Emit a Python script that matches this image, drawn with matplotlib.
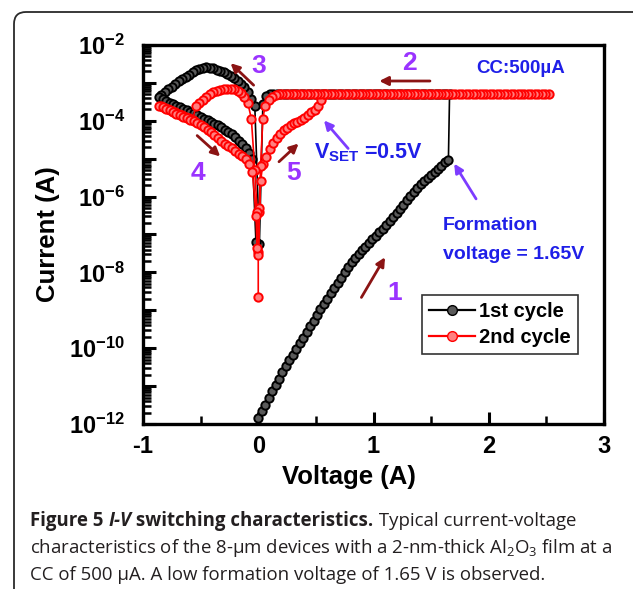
import numpy as np
import matplotlib
matplotlib.use('Agg')
import matplotlib.pyplot as plt
from matplotlib.patches import FancyBboxPatch
from matplotlib.transforms import IdentityTransform
from matplotlib.lines import Line2D
from matplotlib.ticker import LogLocator, FixedLocator, FuncFormatter, MultipleLocator, NullFormatter

plt.rcParams['font.family'] = ['Liberation Sans', 'DejaVu Sans']
plt.rcParams['mathtext.fontset'] = 'custom'
plt.rcParams['mathtext.bf'] = 'Liberation Sans:bold'
plt.rcParams['mathtext.rm'] = 'Open Sans'
plt.rcParams['mathtext.it'] = 'Open Sans:italic'

# ---- data: (voltage V, log10 current A) ----
cc_current = 5.0e-4   # compliance current, 500 uA

# 1st cycle
c1_forming = [(0.00, -11.84), (0.03, -11.66), (0.06, -11.49), (0.09, -11.31), (0.12, -11.14),
              (0.15, -10.97), (0.18, -10.80), (0.21, -10.63), (0.24, -10.47), (0.27, -10.32),
              (0.30, -10.17), (0.33, -10.02), (0.36, -9.87), (0.39, -9.72), (0.42, -9.57),
              (0.45, -9.42), (0.48, -9.27), (0.51, -9.12), (0.54, -8.97), (0.57, -8.83),
              (0.60, -8.69), (0.63, -8.55), (0.66, -8.41), (0.69, -8.28), (0.72, -8.14),
              (0.75, -8.00), (0.78, -7.87), (0.81, -7.73), (0.84, -7.62), (0.87, -7.52),
              (0.90, -7.42), (0.93, -7.32), (0.96, -7.22), (0.99, -7.12), (1.02, -7.03),
              (1.05, -6.94), (1.08, -6.85), (1.11, -6.76), (1.14, -6.65), (1.17, -6.54),
              (1.20, -6.43), (1.23, -6.32), (1.26, -6.21), (1.29, -6.10), (1.32, -5.99),
              (1.35, -5.88), (1.38, -5.76), (1.41, -5.66), (1.44, -5.58), (1.47, -5.50),
              (1.50, -5.42), (1.53, -5.34), (1.56, -5.26), (1.59, -5.18), (1.62, -5.10),
              (1.65, -5.03)]
c1_cc_v = [1.66, 1.63, 1.60, 1.57, 1.54, 1.51, 1.48, 1.45, 1.42, 1.39, 1.36, 1.33, 1.30, 1.27,
           1.24, 1.21, 1.18, 1.15, 1.12, 1.09, 1.06, 1.03, 1.00, 0.97, 0.94, 0.91, 0.88, 0.85,
           0.82, 0.79, 0.76, 0.73, 0.70, 0.67, 0.64, 0.61, 0.58, 0.55, 0.52, 0.49, 0.46, 0.43,
           0.40, 0.37, 0.34, 0.31, 0.28, 0.25, 0.22, 0.19, 0.16, 0.13, 0.10]
c1_dip = [(0.07, -3.35), (0.04, -3.55), (0.01, -7.25)]
c1_reset = [(-0.03, -3.60), (-0.06, -3.42), (-0.09, -3.25), (-0.12, -3.12), (-0.15, -3.02),
            (-0.18, -2.94), (-0.21, -2.87), (-0.24, -2.81), (-0.27, -2.76), (-0.30, -2.72),
            (-0.33, -2.68), (-0.36, -2.65), (-0.39, -2.62), (-0.42, -2.60), (-0.45, -2.59),
            (-0.48, -2.60), (-0.51, -2.63), (-0.54, -2.67), (-0.57, -2.72), (-0.60, -2.78),
            (-0.63, -2.84), (-0.66, -2.90), (-0.69, -2.96), (-0.72, -3.03), (-0.75, -3.10),
            (-0.78, -3.17), (-0.81, -3.24), (-0.84, -3.32), (-0.86, -3.36)]
c1_hrs = [(-0.83, -3.43), (-0.80, -3.49), (-0.77, -3.53), (-0.74, -3.56), (-0.71, -3.60),
          (-0.68, -3.64), (-0.65, -3.68), (-0.62, -3.72), (-0.59, -3.76), (-0.56, -3.80),
          (-0.53, -3.85), (-0.50, -3.89), (-0.47, -3.94), (-0.44, -3.99), (-0.41, -4.03),
          (-0.38, -4.08), (-0.35, -4.12), (-0.32, -4.17), (-0.29, -4.23), (-0.26, -4.29),
          (-0.23, -4.35), (-0.20, -4.43), (-0.17, -4.52), (-0.14, -4.62), (-0.11, -4.73),
          (-0.08, -4.86), (-0.05, -5.00), (-0.02, -7.20)]

# 2nd cycle
c2_start = [(0.00, -8.66), (0.00, -7.45), (0.01, -6.40), (0.02, -5.60)]
c2_set = [(0.04, -5.13), (0.07, -4.95), (0.10, -4.75), (0.13, -4.58), (0.16, -4.45),
          (0.19, -4.34), (0.22, -4.25), (0.25, -4.18), (0.28, -4.12), (0.31, -4.07),
          (0.34, -4.02), (0.37, -3.98), (0.40, -3.92), (0.43, -3.85), (0.46, -3.78),
          (0.49, -3.71), (0.52, -3.60), (0.545, -3.46)]
c2_cc_v = [0.57, 2.52, 2.49, 2.46, 2.43, 2.40, 2.37, 2.34, 2.31, 2.28, 2.25, 2.22, 2.19, 2.16,
           2.13, 2.10, 2.07, 2.04, 2.01, 1.98, 1.95, 1.92, 1.89, 1.86, 1.83, 1.80, 1.77, 1.74,
           1.71, 1.68, 1.65, 1.62, 1.59, 1.56, 1.53, 1.50, 1.47, 1.44, 1.41, 1.38, 1.35, 1.32,
           1.29, 1.26, 1.23, 1.20, 1.17, 1.14, 1.11, 1.08, 1.05, 1.02, 0.99, 0.96, 0.93, 0.90,
           0.87, 0.84, 0.81, 0.78, 0.75, 0.72, 0.69, 0.66, 0.63, 0.60, 0.57, 0.54, 0.51, 0.48,
           0.45, 0.42, 0.39, 0.36, 0.33, 0.30, 0.27, 0.24, 0.21]
c2_bend = [(0.18, -3.29), (0.15, -3.31), (0.12, -3.37), (0.09, -3.46), (0.06, -3.60),
           (0.04, -3.94), (0.02, -5.20), (0.01, -6.30), (0.00, -7.55), (-0.01, -6.40),
           (-0.03, -5.30)]
c2_reset = [(-0.06, -3.94), (-0.09, -3.54), (-0.12, -3.36), (-0.15, -3.27), (-0.18, -3.21),
            (-0.21, -3.17), (-0.24, -3.16), (-0.27, -3.16), (-0.30, -3.17), (-0.33, -3.18),
            (-0.36, -3.21), (-0.39, -3.25), (-0.42, -3.30), (-0.45, -3.37), (-0.48, -3.44),
            (-0.51, -3.52), (-0.54, -3.62), (-0.57, -3.97), (-0.60, -3.93), (-0.63, -3.89),
            (-0.66, -3.85), (-0.69, -3.81), (-0.72, -3.77), (-0.75, -3.73), (-0.78, -3.69),
            (-0.81, -3.65), (-0.84, -3.62)]
c2_hrs = [(-0.86, -3.61), (-0.83, -3.64), (-0.80, -3.68), (-0.77, -3.72), (-0.74, -3.77),
          (-0.71, -3.81), (-0.68, -3.85), (-0.65, -3.89), (-0.62, -3.93), (-0.59, -3.97),
          (-0.56, -4.01), (-0.53, -4.05), (-0.50, -4.10), (-0.47, -4.16), (-0.44, -4.23),
          (-0.41, -4.30), (-0.38, -4.38), (-0.35, -4.46), (-0.32, -4.54), (-0.29, -4.61),
          (-0.26, -4.67), (-0.23, -4.73), (-0.20, -4.80), (-0.17, -4.87), (-0.14, -4.94),
          (-0.11, -5.02), (-0.08, -5.13), (-0.05, -5.35), (-0.02, -6.50), (-0.01, -7.35)]

series_labels = ['1st cycle', '2nd cycle']
x_ticks = [-1, 0, 1, 2, 3]
y_decades = list(range(-12, -1))


def to_arrays(pairs):
    v, lg = zip(*pairs)
    return list(v), list(10.0 ** np.array(lg))


def cc_arrays(vs):
    return list(vs), [cc_current] * len(vs)


def join(*parts):
    v, i = [], []
    for pv, pi in parts:
        v += pv
        i += pi
    return np.array(v), np.array(i)


v1, i1 = join(to_arrays(c1_forming), cc_arrays(c1_cc_v), to_arrays(c1_dip),
              to_arrays(c1_reset), to_arrays(c1_hrs))
v2, i2 = join(to_arrays(c2_start), to_arrays(c2_set), cc_arrays(c2_cc_v),
              to_arrays(c2_bend), to_arrays(c2_reset), to_arrays(c2_hrs))

# ---- figure ----
W, H = 633, 589
fig = plt.figure(figsize=(W / 100, H / 100), dpi=100)
fig.patch.set_facecolor('white')

border = FancyBboxPatch((14, -60), 800, H - 12 + 60, boxstyle='round,pad=0,rounding_size=12',
                        transform=IdentityTransform(), facecolor='none',
                        edgecolor='#2a2a2a', linewidth=1.3)
fig.add_artist(border)

ax = fig.add_axes([143 / W, 1 - 424 / H, 461 / W, 379 / H])

ax.plot(v1, i1, '-o', color='black', lw=1.2, ms=6, mfc='#5a5a5a', mec='black', mew=1.4, zorder=3)
ax.plot(v2, i2, '-o', color='#ff0000', lw=1.2, ms=6, mfc='#ff8080', mec='#ff0000', mew=1.4, zorder=4)

ax.set_yscale('log')
ax.set_xlim(-1, 3)
ax.set_ylim(1e-12, 1e-2)

major_y = [10.0 ** e for e in y_decades]
minor_y = [k * 10.0 ** e for e in y_decades[:-1] for k in range(2, 10)]
ax.yaxis.set_major_locator(FixedLocator(major_y))
ax.yaxis.set_minor_locator(FixedLocator(minor_y))


def ylab(v, p):
    e = int(round(np.log10(v)))
    if e % 2:
        return ''
    return r'$\mathbf{10^{%d}}$' % e


ax.yaxis.set_major_formatter(FuncFormatter(ylab))
ax.yaxis.set_minor_formatter(NullFormatter())
ax.set_xticks(x_ticks)
ax.set_xticklabels(['-1', '0', '1', '2', '3'])
ax.xaxis.set_minor_locator(MultipleLocator(0.5))

for s in ax.spines.values():
    s.set_linewidth(2.4)
ax.tick_params(which='both', direction='in', top=False, right=False, left=True, bottom=True,
               color='black')
ax.tick_params(which='major', length=9, width=2.2)
ax.tick_params(which='minor', length=6, width=1.8)
ax.tick_params(axis='x', which='major', labelsize=17, pad=8)
ax.tick_params(axis='y', which='major', labelsize=17, pad=13)
for t in ax.get_xticklabels():
    t.set_fontweight('bold')

ax.set_xlabel('Voltage (A)', fontsize=18.5, fontweight='bold')
ax.xaxis.set_label_coords((349 - 143) / 461, -(477 - 424) / 379)
ax.xaxis.label.set_va('center')
ax.set_ylabel('Current (A)', fontsize=18.5, fontweight='bold')
ax.yaxis.set_label_coords(-(143 - 48) / 461, 0.5)
ax.yaxis.label.set_va('center')

# legend
handles = [Line2D([], [], color='black', lw=1.6, marker='o', ms=7, mfc='#5a5a5a', mec='black'),
           Line2D([], [], color='#ff0000', lw=1.6, marker='o', ms=7, mfc='#ff8080', mec='#ff0000')]
leg = ax.legend(handles, series_labels, loc='upper left', bbox_to_anchor=(0.605, 0.34),
                borderaxespad=0, fancybox=False, frameon=True, handlelength=2.3,
                handletextpad=0.2, borderpad=0.35, labelspacing=0.35,
                prop={'family': 'Liberation Sans', 'weight': 'bold', 'size': 14.5})
leg.get_frame().set_edgecolor('black')
leg.get_frame().set_linewidth(1.2)

# arrows along the sweeps
dark = '#8b1414'
arr = dict(arrowstyle='-|>', color=dark, lw=2.0, mutation_scale=13, shrinkA=0, shrinkB=0)
for tail, head in [((-0.04, -3.06), (-0.24, -2.48)),
                   ((1.49, -2.95), (1.05, -2.95)),
                   ((-0.53, -4.39), (-0.33, -4.94)),
                   ((0.18, -5.08), (0.35, -4.60)),
                   ((0.895, -8.66), (1.10, -7.60))]:
    ax.annotate('', xy=(head[0], 10 ** head[1]), xytext=(tail[0], 10 ** tail[1]),
                arrowprops=arr, zorder=6)

violet = '#9a33ff'
for txt, x, lg in [('3', 0.0, -2.56), ('2', 1.31, -2.48), ('4', -0.52, -5.37),
                   ('5', 0.31, -5.37), ('1', 1.18, -8.55)]:
    ax.text(x, 10 ** lg, txt, color=violet, fontsize=19, fontweight='bold',
            ha='center', va='center', zorder=7)

purp = '#7d3cff'
arr2 = dict(arrowstyle='-|>', color=purp, lw=2.0, mutation_scale=13, shrinkA=0, shrinkB=0)
ax.annotate('', xy=(0.57, 10 ** -3.99), xytext=(0.78, 10 ** -4.73), arrowprops=arr2, zorder=6)
ax.annotate('', xy=(1.70, 10 ** -5.13), xytext=(1.89, 10 ** -6.06), arrowprops=arr2, zorder=6)

blue = '#1f1fe8'
ax.text(2.28, 10 ** -2.61, 'CC:500\u00b5A', color=blue, fontsize=13.5, fontweight='bold',
        ha='center', va='center')
ax.text(0.48, 10 ** -4.84, r'V$_{\mathbf{SET}}$ =0.5V', color=blue, fontsize=15.5, fontweight='bold',
        ha='left', va='center')
ax.text(1.60, 10 ** -6.77, 'Formation', color=blue, fontsize=14, fontweight='bold',
        ha='left', va='center')
ax.text(1.60, 10 ** -7.52, 'voltage = 1.65V', color=blue, fontsize=14, fontweight='bold',
        ha='left', va='center')

# caption
fig.canvas.draw()
rend = fig.canvas.get_renderer()
cap_col = '#231f20'
cap = dict(family=['Open Sans', 'DejaVu Sans'], size=13.4, color=cap_col)
lines = [
    [('Figure 5 ', 'bold', 'normal'), ('I-V', 'bold', 'italic'),
     (' switching characteristics.', 'bold', 'normal'), (' Typical current-voltage', 'normal', 'normal')],
    [('characteristics of the 8-\u00b5m devices with a 2-nm-thick Al$_2$O$_3$ film at a', 'normal', 'normal')],
    [('CC of 500 \u00b5A. A low formation voltage of 1.65 V is observed.', 'normal', 'normal')],
]
ys = [521, 548, 575]
for pieces, yp in zip(lines, ys):
    x = 30
    for s, wgt, sty in pieces:
        t = fig.text(x / W, 1 - yp / H, s, ha='left', va='center', weight=wgt, style=sty, **cap)
        x += t.get_window_extent(rend).width

fig.savefig('out.png', dpi=100)
